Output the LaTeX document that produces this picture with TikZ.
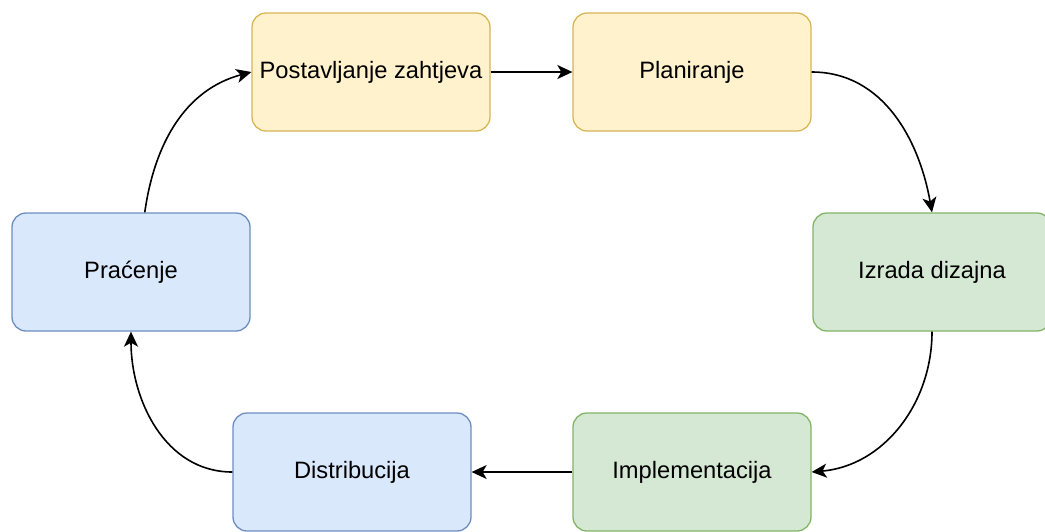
\documentclass[tikz,border=0pt]{standalone}
\usepackage{fontspec}
\setmainfont{Liberation Sans}
\usetikzlibrary{arrows.meta}
\definecolor{yfill}{HTML}{FFF2CC}
\definecolor{ydraw}{HTML}{D6B656}
\definecolor{gfill}{HTML}{D5E8D4}
\definecolor{gdraw}{HTML}{82B366}
\definecolor{bfill}{HTML}{DAE8FC}
\definecolor{bdraw}{HTML}{6C8EBF}
\begin{document}
\begin{tikzpicture}[x=1pt,y=-1pt,
    box/.style={draw,rounded corners=14pt,line width=1.3pt,
      minimum width=238pt,minimum height=118pt,
      font=\fontsize{23.7}{28}\selectfont},
    yellowbox/.style={box,fill=yfill,draw=ydraw},
    greenbox/.style={box,fill=gfill,draw=gdraw},
    bluebox/.style={box,fill=bfill,draw=bdraw}]
      \useasboundingbox (0,0) rectangle (1045,531);
      \draw
        (371,72) node[yellowbox] (0){Postavljanje zahtjeva}
        (692,72) node[yellowbox] (1){Planiranje}
        (932,272) node[greenbox] (2){Izrada dizajna}
        (692,472) node[greenbox] (3){Implementacija}
        (352,472) node[bluebox] (4){Distribucija}
        (131,272) node[bluebox] (5){Praćenje};
      \begin{scope}[-{Stealth[length=15pt,width=14pt,inset=4pt]},line width=1.6pt]
        \draw (0) to (1);
        \draw (1.east) to[out=0,in=100] (2.north);
        \draw (2.south) to[out=-90,in=5] (3.east);
        \draw (3) to (4);
        \draw (4.west) to[out=180,in=-90] (5.south);
        \draw (5.77) to[out=82,in=195] (0.west);
      \end{scope}
    \end{tikzpicture}
\end{document}
